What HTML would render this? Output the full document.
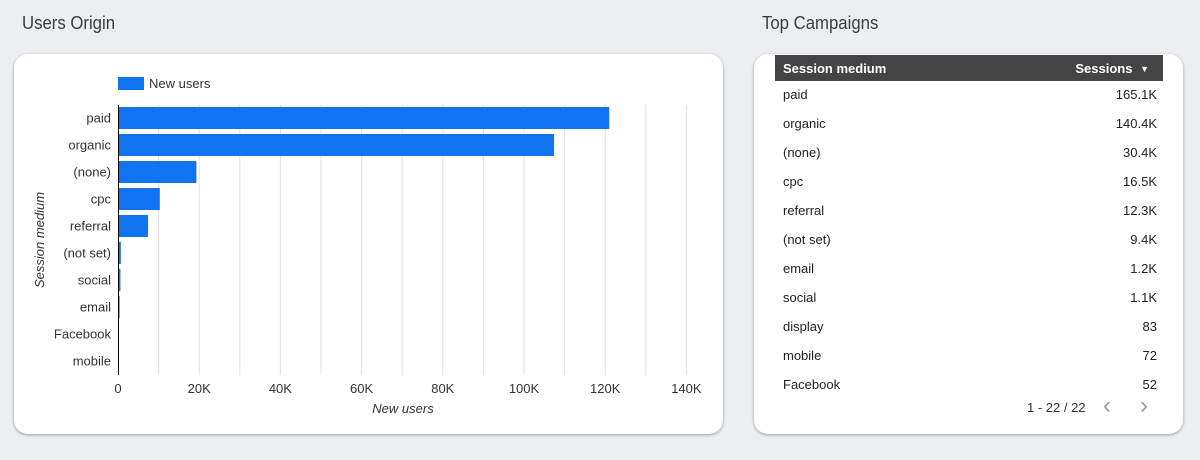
<!DOCTYPE html>
<html><head><meta charset="utf-8"><style>
body{margin:0;width:1200px;height:460px;background:#eceff1;font-family:"Liberation Sans",sans-serif;position:relative;overflow:hidden}
.title{position:absolute;top:13px;font-size:18px;color:#3c3c3c;transform:scaleX(0.93);transform-origin:left}
.card{position:absolute;background:#fff;border-radius:14px;box-shadow:0 1px 3px rgba(0,0,0,.35)}
.row{position:absolute;left:783px;width:374px;font-size:13px;color:#222}
.row span{position:absolute;right:0}
</style></head><body>
<div class="title" style="left:22px">Users Origin</div>
<div class="title" style="left:762px">Top Campaigns</div>
<div class="card" style="left:14px;top:54px;width:709px;height:380px"></div>
<div class="card" style="left:754px;top:54px;width:429px;height:380px"></div>
<svg id="chart" width="1200" height="460" style="position:absolute;left:0;top:0"></svg>
<div style="position:absolute;left:775px;top:55px;width:388px;height:26px;background:#444;color:#fff;font-weight:bold;font-size:13px">
<span style="position:absolute;left:8px;top:6px">Session medium</span>
<span style="position:absolute;right:14px;top:6px">Sessions <span style="font-size:9px;position:relative;top:-1px;margin-left:4px">▼</span></span></div>
<div id="rows"></div>
<div style="position:absolute;left:1027px;top:400px;font-size:13px;color:#333">1 - 22 / 22</div>
<div style="position:absolute;left:1103px;top:392px;font-size:24px;color:#999">&#x2039;</div>
<div style="position:absolute;left:1140px;top:392px;font-size:24px;color:#999">&#x203A;</div>
<script>
const categories=["paid","organic","(none)","cpc","referral","(not set)","social","email","Facebook","mobile"];
const newUsers=[121000,107400,19300,10300,7400,700,600,400,0,0];
const tickValues=[0,20000,40000,60000,80000,100000,120000,140000];
const tickLabels=["0","20K","40K","60K","80K","100K","120K","140K"];
const tableMedium=["paid","organic","(none)","cpc","referral","(not set)","email","social","display","mobile","Facebook"];
const tableSessions=["165.1K","140.4K","30.4K","16.5K","12.3K","9.4K","1.2K","1.1K","83","72","52"];
const NS="http://www.w3.org/2000/svg",svg=document.getElementById('chart');
const x=v=>118+v/20000*81.2, y=i=>118+i*27;
function el(t,a,txt){const e=document.createElementNS(NS,t);for(const k in a)e.setAttribute(k,a[k]);if(txt!=null)e.textContent=txt;svg.appendChild(e);return e;}
for(let v=10000;v<=140000;v+=10000){const g=el('line',{x1:x(v),x2:x(v),y1:105,y2:375,stroke:'#e0e0e0'});

}
tickValues.forEach((v,i)=>{const t=el('text',{x:x(v),y:393,'text-anchor':'middle','font-size':13,fill:'#333'},tickLabels[i]);

});
categories.forEach((c,i)=>{const t=el('text',{x:111,y:y(i)+4.5,'text-anchor':'end','font-size':13,fill:'#333'},c);


const b=el('rect',{x:118,y:y(i)-11,width:Math.max(0,x(newUsers[i])-118),height:22,fill:'#1073ef'});

});
const ax=el('line',{x1:118.5,x2:118.5,y1:105,y2:375,stroke:'#000'});


const lg=el('rect',{x:118,y:77,width:26,height:13,fill:'#1073ef'});


const lt=el('text',{x:149,y:88,'font-size':13,fill:'#333'},'New users');


const xt=el('text',{x:403,y:413,'text-anchor':'middle','font-size':13,'font-style':'italic',fill:'#333'},'New users');


const yt=el('text',{x:0,y:0,'text-anchor':'middle','font-size':13,'font-style':'italic',fill:'#333',transform:'translate(44,240) rotate(-90)'},'Session medium');


const rows=document.getElementById('rows');
tableMedium.forEach((m,i)=>{const r=document.createElement('div');r.className='row';r.style.top=(87+i*29)+'px';


r.textContent=m;const s=document.createElement('span');s.textContent=tableSessions[i];r.appendChild(s);rows.appendChild(r);});
</script>
</body></html>
